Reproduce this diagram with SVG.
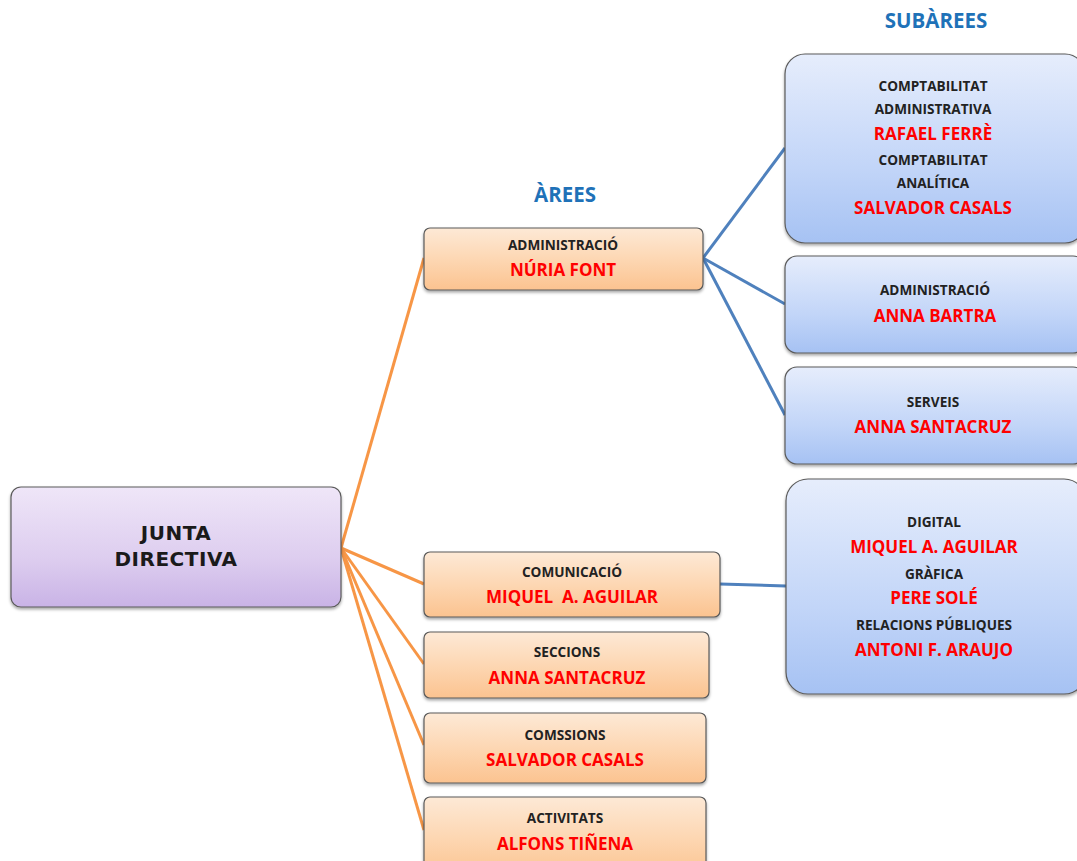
<svg xmlns="http://www.w3.org/2000/svg" width="1077" height="861" viewBox="0 0 1077 861">
<defs>
<linearGradient id="gOr" x1="0" y1="0" x2="0" y2="1">
<stop offset="0" stop-color="#fde9d6"/><stop offset="0.5" stop-color="#fdd7b3"/><stop offset="1" stop-color="#fbc390"/>
</linearGradient>
<linearGradient id="gBl" x1="0" y1="0" x2="0" y2="1">
<stop offset="0" stop-color="#e6edfc"/><stop offset="0.6" stop-color="#c2d5f8"/><stop offset="1" stop-color="#a6c2f3"/>
</linearGradient>
<linearGradient id="gPu" x1="0" y1="0" x2="0" y2="1">
<stop offset="0" stop-color="#efe6f8"/><stop offset="0.6" stop-color="#ddcdef"/><stop offset="1" stop-color="#c9b3e6"/>
</linearGradient>
<filter id="sh" x="-10%" y="-10%" width="120%" height="130%">
<feDropShadow dx="0" dy="2" stdDeviation="1.5" flood-color="#000" flood-opacity="0.35"/>
</filter>
<style>
.box{stroke:#5a5a5a;stroke-width:1.2;filter:url(#sh)}
.or{fill:url(#gOr)}
.bl{fill:url(#gBl)}
.pu{fill:url(#gPu)}
.lb{font-family:"Open Sans","Noto Sans",sans-serif;font-weight:bold;font-size:13.6px;fill:#222;text-anchor:middle;dominant-baseline:central}
.nm{font-family:"Open Sans","Noto Sans",sans-serif;font-weight:bold;font-size:17px;fill:#ff0000;text-anchor:middle;dominant-baseline:central}
.hd{font-family:"Open Sans","Noto Sans",sans-serif;font-weight:bold;font-size:20.5px;fill:#1f72b8;text-anchor:middle;dominant-baseline:central}
.jd{font-family:"DejaVu Sans",sans-serif;font-weight:bold;font-size:20px;fill:#1a1a1a;text-anchor:middle;dominant-baseline:central;letter-spacing:0.5px}
.co{stroke:#f79646;stroke-width:3;fill:none}
.cb{stroke:#4f81bd;stroke-width:3;fill:none}
</style>
</defs>
<rect width="1077" height="861" fill="#fff"/>
<g id="connectors">
<line class="co" x1="341" y1="548" x2="424" y2="258"/>
<line class="co" x1="341" y1="548" x2="424" y2="584"/>
<line class="co" x1="341" y1="548" x2="424" y2="664"/>
<line class="co" x1="341" y1="548" x2="424" y2="745"/>
<line class="co" x1="341" y1="548" x2="424" y2="830"/>
<line class="cb" x1="703" y1="258" x2="785" y2="148"/>
<line class="cb" x1="703" y1="258" x2="785" y2="304"/>
<line class="cb" x1="703" y1="258" x2="785" y2="415"/>
<line class="cb" x1="720" y1="584" x2="786" y2="586"/>
</g>
<text class="hd" x="565" y="194">ÀREES</text>
<text class="hd" x="936" y="20">SUBÀREES</text>
<g id="junta">
<rect class="box pu" x="11" y="487" width="330" height="120" rx="10"/>
<text class="jd" x="176" y="533">JUNTA</text>
<text class="jd" x="176" y="559">DIRECTIVA</text>
</g>
<g id="administracio">
<rect class="box or" x="424" y="228" width="279" height="62" rx="6"/>
<text class="lb" x="563" y="244">ADMINISTRACIÓ</text>
<text class="nm" x="563" y="269">NÚRIA FONT</text>
</g>
<g id="comunicacio">
<rect class="box or" x="424" y="552" width="296" height="65" rx="6"/>
<text class="lb" x="572" y="571">COMUNICACIÓ</text>
<text class="nm" x="572" y="596" xml:space="preserve">MIQUEL  A. AGUILAR</text>
</g>
<g id="seccions">
<rect class="box or" x="424" y="632" width="285" height="66" rx="6"/>
<text class="lb" x="567" y="651">SECCIONS</text>
<text class="nm" x="567" y="677">ANNA SANTACRUZ</text>
</g>
<g id="comissions">
<rect class="box or" x="424" y="713" width="282" height="70" rx="6"/>
<text class="lb" x="565" y="734">COMSSIONS</text>
<text class="nm" x="565" y="759">SALVADOR CASALS</text>
</g>
<g id="activitats">
<rect class="box or" x="424" y="797" width="282" height="80" rx="6"/>
<text class="lb" x="565" y="817">ACTIVITATS</text>
<text class="nm" x="565" y="843">ALFONS TIÑENA</text>
</g>
<g id="comptabilitat">
<rect class="box bl" x="785" y="54" width="300" height="189" rx="20"/>
<text class="lb" x="933" y="85">COMPTABILITAT</text>
<text class="lb" x="933" y="108">ADMINISTRATIVA</text>
<text class="nm" x="933" y="133">RAFAEL FERRÈ</text>
<text class="lb" x="933" y="159">COMPTABILITAT</text>
<text class="lb" x="933" y="182">ANALÍTICA</text>
<text class="nm" x="933" y="207">SALVADOR CASALS</text>
</g>
<g id="sub-administracio">
<rect class="box bl" x="785" y="256" width="300" height="97" rx="12"/>
<text class="lb" x="935" y="289">ADMINISTRACIÓ</text>
<text class="nm" x="935" y="315">ANNA BARTRA</text>
</g>
<g id="serveis">
<rect class="box bl" x="785" y="367" width="300" height="97" rx="12"/>
<text class="lb" x="933" y="401">SERVEIS</text>
<text class="nm" x="933" y="426">ANNA SANTACRUZ</text>
</g>
<g id="sub-comunicacio">
<rect class="box bl" x="786" y="479" width="300" height="215" rx="22"/>
<text class="lb" x="934" y="521">DIGITAL</text>
<text class="nm" x="934" y="546">MIQUEL A. AGUILAR</text>
<text class="lb" x="934" y="573">GRÀFICA</text>
<text class="nm" x="934" y="597">PERE SOLÉ</text>
<text class="lb" x="934" y="624">RELACIONS PÚBLIQUES</text>
<text class="nm" x="934" y="649">ANTONI F. ARAUJO</text>
</g>
</svg>
